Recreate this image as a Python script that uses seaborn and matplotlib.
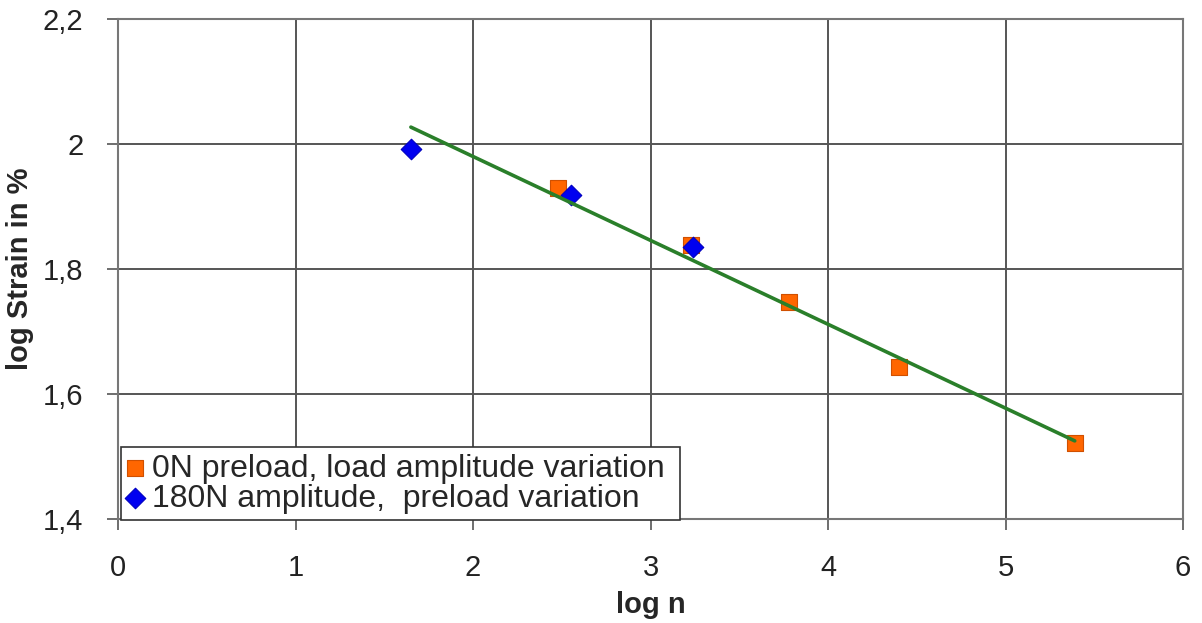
import matplotlib
matplotlib.use("Agg")
import matplotlib.pyplot as plt
import seaborn as sns
import pandas as pd

# Data
orange_x = [2.48, 3.23, 3.78, 4.40, 5.39]
orange_y = [1.930, 1.838, 1.747, 1.643, 1.522]
blue_x = [1.65, 2.55, 3.24]
blue_y = [1.992, 1.918, 1.835]
trend_x = [1.65, 5.39]
trend_y = [2.027, 1.525]

x_ticks = [0, 1, 2, 3, 4, 5, 6]
x_tick_labels = ["0", "1", "2", "3", "4", "5", "6"]
y_ticks = [1.4, 1.6, 1.8, 2.0, 2.2]
y_tick_labels = ["1,4", "1,6", "1,8", "2", "2,2"]

label_orange = "0N preload, load amplitude variation"
label_blue = "180N amplitude,  preload variation"

sns.set_style("white")
plt.rcParams["font.family"] = ["Liberation Sans", "DejaVu Sans"]

fig = plt.figure(figsize=(12.02, 6.23), dpi=100)
ax = fig.add_axes([118/1202, 1-519/623, (1183-118)/1202, (519-19)/623])

df_o = pd.DataFrame({"x": orange_x, "y": orange_y})
df_b = pd.DataFrame({"x": blue_x, "y": blue_y})
df_t = pd.DataFrame({"x": trend_x, "y": trend_y})

sns.scatterplot(data=df_o, x="x", y="y", ax=ax, marker="s", s=130,
                color="#ff6600", edgecolor="#d05000", linewidth=0.8,
                label=label_orange, zorder=3)
sns.scatterplot(data=df_b, x="x", y="y", ax=ax, marker="D", s=110,
                color="#0000f0", edgecolor="#0000c0", linewidth=0.8,
                label=label_blue, zorder=4)
sns.lineplot(data=df_t, x="x", y="y", ax=ax, color="#2a7f2a", linewidth=2.6,
             zorder=5, legend=False)

ax.set_xlim(0, 6)
ax.set_ylim(1.4, 2.2)
ax.set_xticks(x_ticks)
ax.set_xticklabels(x_tick_labels)
ax.set_yticks(y_ticks)
ax.set_yticklabels(y_tick_labels)
ax.grid(True, color="#555555", linewidth=1.4)
ax.set_axisbelow(True)
for s in ax.spines.values():
    s.set_color("#777777")
    s.set_linewidth(1.5)
ax.tick_params(axis="both", direction="out", length=8, width=1.2,
               color="#555555", labelsize=21, labelcolor="#222222",
               bottom=True, left=True)
ax.tick_params(axis="x", pad=17)
ax.tick_params(axis="y", pad=17)

ax.set_xlabel("log n", fontsize=21, fontweight="bold", labelpad=7)
ax.set_ylabel("log Strain in %", fontsize=21, fontweight="bold", labelpad=6)

leg = ax.legend(loc="lower left", bbox_to_anchor=(0.003, -0.002, 0.525, 0.15),
                mode="expand", fontsize=23,
                frameon=True, fancybox=False, framealpha=1, edgecolor="#333333",
                borderpad=0.2, handletextpad=0.3, labelspacing=0.0,
                handlelength=0.45, borderaxespad=0)
leg.get_frame().set_linewidth(1.2)

fig.savefig("out.png", dpi=100)
